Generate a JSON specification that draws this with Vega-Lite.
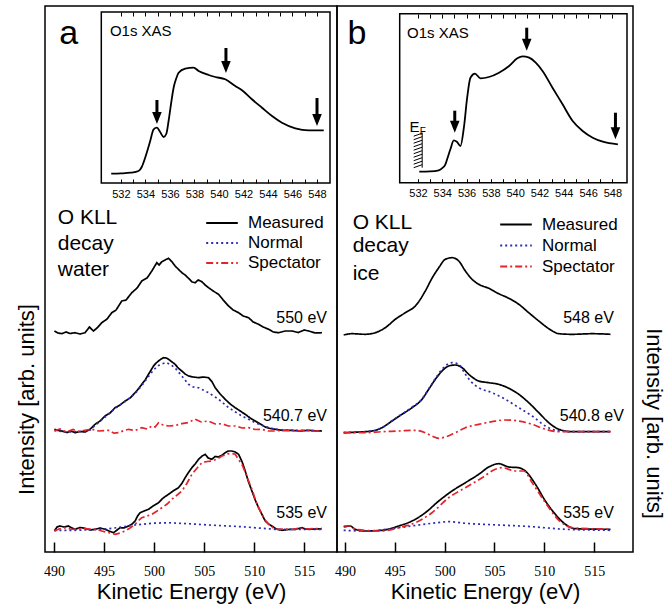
{
  "$schema": "https://vega.github.io/schema/vega-lite/v6.json",
  "padding": {"left": 14, "top": 5, "right": 3, "bottom": 5},
  "bounds": "flush",
  "spacing": 0,
  "config": {
    "view": {"stroke": "black", "strokeWidth": 1.5},
    "font": "Liberation Sans",
    "text": {"font": "Liberation Sans", "color": "black"},
    "axis": {"grid": false, "labelColor": "black", "titleColor": "black", "tickColor": "black", "titleFontWeight": "normal", "labelFont": "Liberation Sans", "titleFont": "Liberation Sans"}
  },
  "datasets": {
    "specA": [
      {"s":"a550","t":"Measured","ke":490.04,"i":221},{"s":"a550","t":"Measured","ke":490.4,"i":219},{"s":"a550","t":"Measured","ke":490.77,"i":218.3},{"s":"a550","t":"Measured","ke":491.2,"i":220},{"s":"a550","t":"Measured","ke":491.6,"i":218.5},{"s":"a550","t":"Measured","ke":492.1,"i":219.3},{"s":"a550","t":"Measured","ke":492.6,"i":218},{"s":"a550","t":"Measured","ke":493.1,"i":219.3},{"s":"a550","t":"Measured","ke":493.54,"i":225},{"s":"a550","t":"Measured","ke":493.94,"i":221},{"s":"a550","t":"Measured","ke":494.3,"i":224},{"s":"a550","t":"Measured","ke":494.77,"i":229.3},{"s":"a550","t":"Measured","ke":495.3,"i":233},{"s":"a550","t":"Measured","ke":495.77,"i":239.3},{"s":"a550","t":"Measured","ke":496.2,"i":242},{"s":"a550","t":"Measured","ke":496.77,"i":251},{"s":"a550","t":"Measured","ke":497.2,"i":252},{"s":"a550","t":"Measured","ke":497.77,"i":259.3},{"s":"a550","t":"Measured","ke":498.3,"i":264},{"s":"a550","t":"Measured","ke":498.77,"i":271},{"s":"a550","t":"Measured","ke":499.3,"i":274},{"s":"a550","t":"Measured","ke":499.77,"i":281},{"s":"a550","t":"Measured","ke":500.27,"i":289.3},{"s":"a550","t":"Measured","ke":500.5,"i":287},{"s":"a550","t":"Measured","ke":500.77,"i":290.3},{"s":"a550","t":"Measured","ke":501.1,"i":292},{"s":"a550","t":"Measured","ke":501.44,"i":293.7},{"s":"a550","t":"Measured","ke":501.8,"i":290},{"s":"a550","t":"Measured","ke":502.1,"i":286},{"s":"a550","t":"Measured","ke":502.4,"i":283},{"s":"a550","t":"Measured","ke":502.77,"i":279.3},{"s":"a550","t":"Measured","ke":503.1,"i":277},{"s":"a550","t":"Measured","ke":503.44,"i":273.7},{"s":"a550","t":"Measured","ke":503.8,"i":270},{"s":"a550","t":"Measured","ke":504.1,"i":269.3},{"s":"a550","t":"Measured","ke":504.4,"i":272},{"s":"a550","t":"Measured","ke":504.77,"i":270.3},{"s":"a550","t":"Measured","ke":505.1,"i":267},{"s":"a550","t":"Measured","ke":505.44,"i":264.3},{"s":"a550","t":"Measured","ke":505.9,"i":261},{"s":"a550","t":"Measured","ke":506.44,"i":257.7},{"s":"a550","t":"Measured","ke":506.9,"i":252},{"s":"a550","t":"Measured","ke":507.44,"i":246},{"s":"a550","t":"Measured","ke":507.9,"i":242},{"s":"a550","t":"Measured","ke":508.44,"i":239.3},{"s":"a550","t":"Measured","ke":508.9,"i":236},{"s":"a550","t":"Measured","ke":509.44,"i":234.3},{"s":"a550","t":"Measured","ke":509.9,"i":230},{"s":"a550","t":"Measured","ke":510.44,"i":227.7},{"s":"a550","t":"Measured","ke":510.9,"i":225},{"s":"a550","t":"Measured","ke":511.44,"i":222.7},{"s":"a550","t":"Measured","ke":511.9,"i":220},{"s":"a550","t":"Measured","ke":512.44,"i":219.3},{"s":"a550","t":"Measured","ke":513.1,"i":221},{"s":"a550","t":"Measured","ke":513.77,"i":221},{"s":"a550","t":"Measured","ke":514.4,"i":219.5},{"s":"a550","t":"Measured","ke":515.0,"i":222},{"s":"a550","t":"Measured","ke":515.44,"i":221},{"s":"a550","t":"Measured","ke":516.1,"i":219},{"s":"a550","t":"Measured","ke":516.77,"i":219.3},

      {"s":"a540","t":"Measured","ke":490.04,"i":122.7},{"s":"a540","t":"Measured","ke":490.4,"i":121.5},{"s":"a540","t":"Measured","ke":490.77,"i":121},{"s":"a540","t":"Measured","ke":491.3,"i":119.5},{"s":"a540","t":"Measured","ke":491.7,"i":121},{"s":"a540","t":"Measured","ke":492.1,"i":119.3},{"s":"a540","t":"Measured","ke":492.6,"i":120.5},{"s":"a540","t":"Measured","ke":493.1,"i":120},{"s":"a540","t":"Measured","ke":493.6,"i":122.7},{"s":"a540","t":"Measured","ke":494.1,"i":127.7},{"s":"a540","t":"Measured","ke":494.6,"i":131},{"s":"a540","t":"Measured","ke":495.1,"i":136},{"s":"a540","t":"Measured","ke":495.6,"i":139},{"s":"a540","t":"Measured","ke":496.1,"i":144.3},{"s":"a540","t":"Measured","ke":496.6,"i":147},{"s":"a540","t":"Measured","ke":497.1,"i":151},{"s":"a540","t":"Measured","ke":497.6,"i":154},{"s":"a540","t":"Measured","ke":498.1,"i":159.3},{"s":"a540","t":"Measured","ke":498.5,"i":164},{"s":"a540","t":"Measured","ke":498.77,"i":167.7},{"s":"a540","t":"Measured","ke":499.1,"i":172},{"s":"a540","t":"Measured","ke":499.44,"i":177.7},{"s":"a540","t":"Measured","ke":499.7,"i":182},{"s":"a540","t":"Measured","ke":499.94,"i":186},{"s":"a540","t":"Measured","ke":500.2,"i":189},{"s":"a540","t":"Measured","ke":500.44,"i":191},{"s":"a540","t":"Measured","ke":500.7,"i":193},{"s":"a540","t":"Measured","ke":500.94,"i":194.3},{"s":"a540","t":"Measured","ke":501.2,"i":194},{"s":"a540","t":"Measured","ke":501.44,"i":192.7},{"s":"a540","t":"Measured","ke":501.8,"i":190},{"s":"a540","t":"Measured","ke":502.1,"i":187.7},{"s":"a540","t":"Measured","ke":502.4,"i":184},{"s":"a540","t":"Measured","ke":502.77,"i":181},{"s":"a540","t":"Measured","ke":503.1,"i":178},{"s":"a540","t":"Measured","ke":503.44,"i":176},{"s":"a540","t":"Measured","ke":503.9,"i":175},{"s":"a540","t":"Measured","ke":504.44,"i":174.3},{"s":"a540","t":"Measured","ke":504.9,"i":175},{"s":"a540","t":"Measured","ke":505.44,"i":174.3},{"s":"a540","t":"Measured","ke":505.8,"i":170},{"s":"a540","t":"Measured","ke":506.1,"i":164.3},{"s":"a540","t":"Measured","ke":506.6,"i":158},{"s":"a540","t":"Measured","ke":507.1,"i":152.7},{"s":"a540","t":"Measured","ke":507.6,"i":148},{"s":"a540","t":"Measured","ke":508.1,"i":144.3},{"s":"a540","t":"Measured","ke":508.6,"i":141},{"s":"a540","t":"Measured","ke":509.1,"i":137.7},{"s":"a540","t":"Measured","ke":509.6,"i":134},{"s":"a540","t":"Measured","ke":510.1,"i":131},{"s":"a540","t":"Measured","ke":510.6,"i":128},{"s":"a540","t":"Measured","ke":511.1,"i":125},{"s":"a540","t":"Measured","ke":511.6,"i":123.5},{"s":"a540","t":"Measured","ke":512.1,"i":122.7},{"s":"a540","t":"Measured","ke":512.9,"i":121.5},{"s":"a540","t":"Measured","ke":513.77,"i":121.7},{"s":"a540","t":"Measured","ke":514.6,"i":121},{"s":"a540","t":"Measured","ke":515.44,"i":121.7},{"s":"a540","t":"Measured","ke":516.1,"i":121.2},{"s":"a540","t":"Measured","ke":516.77,"i":121},

      {"s":"a540","t":"Normal","ke":490.04,"i":121.5},{"s":"a540","t":"Normal","ke":490.77,"i":120.5},{"s":"a540","t":"Normal","ke":491.5,"i":120},{"s":"a540","t":"Normal","ke":492.1,"i":120.5},{"s":"a540","t":"Normal","ke":493.1,"i":120.5},{"s":"a540","t":"Normal","ke":493.6,"i":122},{"s":"a540","t":"Normal","ke":494.1,"i":126.5},{"s":"a540","t":"Normal","ke":495.1,"i":135},{"s":"a540","t":"Normal","ke":496.1,"i":143.5},{"s":"a540","t":"Normal","ke":497.1,"i":150.5},{"s":"a540","t":"Normal","ke":498.1,"i":158.5},{"s":"a540","t":"Normal","ke":498.77,"i":166.5},{"s":"a540","t":"Normal","ke":499.44,"i":175.5},{"s":"a540","t":"Normal","ke":499.94,"i":182},{"s":"a540","t":"Normal","ke":500.44,"i":186.5},{"s":"a540","t":"Normal","ke":500.9,"i":188.5},{"s":"a540","t":"Normal","ke":501.27,"i":189.3},{"s":"a540","t":"Normal","ke":501.7,"i":187},{"s":"a540","t":"Normal","ke":502.1,"i":184},{"s":"a540","t":"Normal","ke":502.77,"i":176},{"s":"a540","t":"Normal","ke":503.44,"i":167.7},{"s":"a540","t":"Normal","ke":503.9,"i":165},{"s":"a540","t":"Normal","ke":504.44,"i":164.3},{"s":"a540","t":"Normal","ke":504.9,"i":162},{"s":"a540","t":"Normal","ke":505.44,"i":159.3},{"s":"a540","t":"Normal","ke":506.44,"i":152.7},{"s":"a540","t":"Normal","ke":507.44,"i":144.3},{"s":"a540","t":"Normal","ke":508.77,"i":136},{"s":"a540","t":"Normal","ke":510.1,"i":129.3},{"s":"a540","t":"Normal","ke":511.44,"i":124.3},{"s":"a540","t":"Normal","ke":512.5,"i":122.2},{"s":"a540","t":"Normal","ke":513.77,"i":121.7},{"s":"a540","t":"Normal","ke":515.5,"i":121.5},{"s":"a540","t":"Normal","ke":516.77,"i":121},

      {"s":"a540","t":"Spectator","ke":490.04,"i":121},{"s":"a540","t":"Spectator","ke":490.6,"i":123},{"s":"a540","t":"Spectator","ke":491.2,"i":120},{"s":"a540","t":"Spectator","ke":491.9,"i":122.5},{"s":"a540","t":"Spectator","ke":492.5,"i":120.5},{"s":"a540","t":"Spectator","ke":493.2,"i":122},{"s":"a540","t":"Spectator","ke":493.77,"i":122.7},{"s":"a540","t":"Spectator","ke":494.5,"i":121},{"s":"a540","t":"Spectator","ke":495.44,"i":121.7},{"s":"a540","t":"Spectator","ke":496.0,"i":118.8},{"s":"a540","t":"Spectator","ke":496.44,"i":119.3},{"s":"a540","t":"Spectator","ke":497.0,"i":121.5},{"s":"a540","t":"Spectator","ke":497.44,"i":122.7},{"s":"a540","t":"Spectator","ke":498.1,"i":121.5},{"s":"a540","t":"Spectator","ke":498.77,"i":124.3},{"s":"a540","t":"Spectator","ke":499.3,"i":123},{"s":"a540","t":"Spectator","ke":499.77,"i":126},{"s":"a540","t":"Spectator","ke":500.1,"i":125},{"s":"a540","t":"Spectator","ke":500.44,"i":129.3},{"s":"a540","t":"Spectator","ke":500.9,"i":127},{"s":"a540","t":"Spectator","ke":501.44,"i":126},{"s":"a540","t":"Spectator","ke":502.1,"i":126.5},{"s":"a540","t":"Spectator","ke":502.77,"i":128.3},{"s":"a540","t":"Spectator","ke":503.4,"i":129.5},{"s":"a540","t":"Spectator","ke":504.1,"i":132.7},{"s":"a540","t":"Spectator","ke":504.7,"i":130},{"s":"a540","t":"Spectator","ke":505.44,"i":131},{"s":"a540","t":"Spectator","ke":506.1,"i":128},{"s":"a540","t":"Spectator","ke":506.77,"i":128.3},{"s":"a540","t":"Spectator","ke":507.4,"i":126},{"s":"a540","t":"Spectator","ke":508.1,"i":126},{"s":"a540","t":"Spectator","ke":508.8,"i":124},{"s":"a540","t":"Spectator","ke":509.44,"i":124.3},{"s":"a540","t":"Spectator","ke":510.1,"i":122.5},{"s":"a540","t":"Spectator","ke":510.77,"i":122.7},{"s":"a540","t":"Spectator","ke":511.4,"i":121},{"s":"a540","t":"Spectator","ke":512.1,"i":121},{"s":"a540","t":"Spectator","ke":513.0,"i":121.8},{"s":"a540","t":"Spectator","ke":514.0,"i":121},{"s":"a540","t":"Spectator","ke":515.0,"i":121.6},{"s":"a540","t":"Spectator","ke":516.0,"i":121},{"s":"a540","t":"Spectator","ke":516.77,"i":121},

      {"s":"a535","t":"Measured","ke":490.04,"i":21},{"s":"a535","t":"Measured","ke":490.3,"i":25},{"s":"a535","t":"Measured","ke":490.6,"i":26},{"s":"a535","t":"Measured","ke":491.0,"i":25},{"s":"a535","t":"Measured","ke":491.44,"i":26},{"s":"a535","t":"Measured","ke":491.8,"i":24},{"s":"a535","t":"Measured","ke":492.1,"i":22.7},{"s":"a535","t":"Measured","ke":492.6,"i":24.5},{"s":"a535","t":"Measured","ke":493.1,"i":23.7},{"s":"a535","t":"Measured","ke":493.6,"i":22},{"s":"a535","t":"Measured","ke":494.1,"i":22.7},{"s":"a535","t":"Measured","ke":494.6,"i":24},{"s":"a535","t":"Measured","ke":495.1,"i":22.7},{"s":"a535","t":"Measured","ke":495.5,"i":21},{"s":"a535","t":"Measured","ke":495.94,"i":19.3},{"s":"a535","t":"Measured","ke":496.3,"i":22},{"s":"a535","t":"Measured","ke":496.6,"i":24.3},{"s":"a535","t":"Measured","ke":497.0,"i":24},{"s":"a535","t":"Measured","ke":497.44,"i":26},{"s":"a535","t":"Measured","ke":497.8,"i":28},{"s":"a535","t":"Measured","ke":498.1,"i":31},{"s":"a535","t":"Measured","ke":498.35,"i":36},{"s":"a535","t":"Measured","ke":498.6,"i":39.3},{"s":"a535","t":"Measured","ke":499.0,"i":41},{"s":"a535","t":"Measured","ke":499.44,"i":42.7},{"s":"a535","t":"Measured","ke":499.9,"i":46},{"s":"a535","t":"Measured","ke":500.44,"i":49.3},{"s":"a535","t":"Measured","ke":500.9,"i":54},{"s":"a535","t":"Measured","ke":501.44,"i":57.7},{"s":"a535","t":"Measured","ke":501.9,"i":61},{"s":"a535","t":"Measured","ke":502.44,"i":64.3},{"s":"a535","t":"Measured","ke":502.8,"i":69},{"s":"a535","t":"Measured","ke":503.1,"i":74.3},{"s":"a535","t":"Measured","ke":503.4,"i":79},{"s":"a535","t":"Measured","ke":503.77,"i":84.3},{"s":"a535","t":"Measured","ke":504.1,"i":88},{"s":"a535","t":"Measured","ke":504.44,"i":92.7},{"s":"a535","t":"Measured","ke":504.8,"i":96},{"s":"a535","t":"Measured","ke":505.1,"i":97.7},{"s":"a535","t":"Measured","ke":505.4,"i":94},{"s":"a535","t":"Measured","ke":505.77,"i":92.7},{"s":"a535","t":"Measured","ke":506.1,"i":95.5},{"s":"a535","t":"Measured","ke":506.44,"i":95},{"s":"a535","t":"Measured","ke":506.8,"i":97},{"s":"a535","t":"Measured","ke":507.1,"i":99.3},{"s":"a535","t":"Measured","ke":507.4,"i":101},{"s":"a535","t":"Measured","ke":507.77,"i":101},{"s":"a535","t":"Measured","ke":508.1,"i":100},{"s":"a535","t":"Measured","ke":508.44,"i":97.7},{"s":"a535","t":"Measured","ke":508.8,"i":90},{"s":"a535","t":"Measured","ke":509.1,"i":81},{"s":"a535","t":"Measured","ke":509.4,"i":71},{"s":"a535","t":"Measured","ke":509.77,"i":61},{"s":"a535","t":"Measured","ke":510.1,"i":52},{"s":"a535","t":"Measured","ke":510.44,"i":44.3},{"s":"a535","t":"Measured","ke":510.8,"i":37},{"s":"a535","t":"Measured","ke":511.1,"i":31},{"s":"a535","t":"Measured","ke":511.44,"i":28},{"s":"a535","t":"Measured","ke":511.77,"i":26},{"s":"a535","t":"Measured","ke":512.2,"i":23},{"s":"a535","t":"Measured","ke":512.77,"i":21.7},{"s":"a535","t":"Measured","ke":513.4,"i":22.5},{"s":"a535","t":"Measured","ke":514.1,"i":22.7},{"s":"a535","t":"Measured","ke":514.77,"i":24.3},{"s":"a535","t":"Measured","ke":515.1,"i":23},{"s":"a535","t":"Measured","ke":515.44,"i":22.7},{"s":"a535","t":"Measured","ke":516.1,"i":23},{"s":"a535","t":"Measured","ke":516.77,"i":23.3},

      {"s":"a535","t":"Normal","ke":490.04,"i":21.7},{"s":"a535","t":"Normal","ke":492.1,"i":21.7},{"s":"a535","t":"Normal","ke":493.8,"i":22.3},{"s":"a535","t":"Normal","ke":495.44,"i":23.3},{"s":"a535","t":"Normal","ke":496.8,"i":25},{"s":"a535","t":"Normal","ke":498.1,"i":27},{"s":"a535","t":"Normal","ke":499.77,"i":28.7},{"s":"a535","t":"Normal","ke":501.44,"i":29.3},{"s":"a535","t":"Normal","ke":503.4,"i":28.3},{"s":"a535","t":"Normal","ke":505.44,"i":27},{"s":"a535","t":"Normal","ke":507.1,"i":26.2},{"s":"a535","t":"Normal","ke":508.77,"i":25.3},{"s":"a535","t":"Normal","ke":510.4,"i":24},{"s":"a535","t":"Normal","ke":512.1,"i":22.7},{"s":"a535","t":"Normal","ke":514.4,"i":22.7},{"s":"a535","t":"Normal","ke":516.77,"i":22.7},

      {"s":"a535","t":"Spectator","ke":490.04,"i":21},{"s":"a535","t":"Spectator","ke":490.5,"i":23},{"s":"a535","t":"Spectator","ke":491.1,"i":24.3},{"s":"a535","t":"Spectator","ke":491.6,"i":23},{"s":"a535","t":"Spectator","ke":492.1,"i":22.7},{"s":"a535","t":"Spectator","ke":492.9,"i":23.5},{"s":"a535","t":"Spectator","ke":493.77,"i":22.7},{"s":"a535","t":"Spectator","ke":494.3,"i":22.5},{"s":"a535","t":"Spectator","ke":494.77,"i":21},{"s":"a535","t":"Spectator","ke":495.4,"i":19.5},{"s":"a535","t":"Spectator","ke":496.1,"i":17.7},{"s":"a535","t":"Spectator","ke":496.6,"i":19},{"s":"a535","t":"Spectator","ke":497.1,"i":21},{"s":"a535","t":"Spectator","ke":497.6,"i":24},{"s":"a535","t":"Spectator","ke":498.1,"i":27.7},{"s":"a535","t":"Spectator","ke":498.4,"i":31},{"s":"a535","t":"Spectator","ke":498.77,"i":34.3},{"s":"a535","t":"Spectator","ke":499.3,"i":36},{"s":"a535","t":"Spectator","ke":499.77,"i":37.7},{"s":"a535","t":"Spectator","ke":500.3,"i":41},{"s":"a535","t":"Spectator","ke":500.77,"i":44.3},{"s":"a535","t":"Spectator","ke":501.3,"i":48},{"s":"a535","t":"Spectator","ke":501.77,"i":52.7},{"s":"a535","t":"Spectator","ke":502.3,"i":57},{"s":"a535","t":"Spectator","ke":502.77,"i":61},{"s":"a535","t":"Spectator","ke":503.3,"i":69},{"s":"a535","t":"Spectator","ke":503.77,"i":77.7},{"s":"a535","t":"Spectator","ke":504.3,"i":84},{"s":"a535","t":"Spectator","ke":504.77,"i":89.3},{"s":"a535","t":"Spectator","ke":505.3,"i":90.5},{"s":"a535","t":"Spectator","ke":505.77,"i":91},{"s":"a535","t":"Spectator","ke":506.3,"i":93},{"s":"a535","t":"Spectator","ke":506.77,"i":96},{"s":"a535","t":"Spectator","ke":507.1,"i":97},{"s":"a535","t":"Spectator","ke":507.44,"i":98.3},{"s":"a535","t":"Spectator","ke":507.8,"i":98.5},{"s":"a535","t":"Spectator","ke":508.1,"i":97.7},{"s":"a535","t":"Spectator","ke":508.4,"i":93},{"s":"a535","t":"Spectator","ke":508.77,"i":87.7},{"s":"a535","t":"Spectator","ke":509.1,"i":80},{"s":"a535","t":"Spectator","ke":509.44,"i":71},{"s":"a535","t":"Spectator","ke":509.8,"i":62},{"s":"a535","t":"Spectator","ke":510.1,"i":52.7},{"s":"a535","t":"Spectator","ke":510.4,"i":45},{"s":"a535","t":"Spectator","ke":510.77,"i":37.7},{"s":"a535","t":"Spectator","ke":511.1,"i":32},{"s":"a535","t":"Spectator","ke":511.44,"i":27.7},{"s":"a535","t":"Spectator","ke":511.8,"i":25},{"s":"a535","t":"Spectator","ke":512.1,"i":22.7},{"s":"a535","t":"Spectator","ke":513.0,"i":23},{"s":"a535","t":"Spectator","ke":513.8,"i":22.5},{"s":"a535","t":"Spectator","ke":514.5,"i":24},{"s":"a535","t":"Spectator","ke":515.2,"i":23},{"s":"a535","t":"Spectator","ke":516.0,"i":23.5},{"s":"a535","t":"Spectator","ke":516.77,"i":23.3}
    ],
    "specB": [
      {"s":"b548","t":"Measured","ke":489.87,"i":217},{"s":"b548","t":"Measured","ke":490.7,"i":218.3},{"s":"b548","t":"Measured","ke":492.04,"i":217.7},{"s":"b548","t":"Measured","ke":493.04,"i":219.3},{"s":"b548","t":"Measured","ke":494.05,"i":224.3},{"s":"b548","t":"Measured","ke":495.05,"i":232.7},{"s":"b548","t":"Measured","ke":496.05,"i":239.3},{"s":"b548","t":"Measured","ke":497.06,"i":246},{"s":"b548","t":"Measured","ke":498.06,"i":261},{"s":"b548","t":"Measured","ke":498.73,"i":273.7},{"s":"b548","t":"Measured","ke":499.41,"i":284.3},{"s":"b548","t":"Measured","ke":500.07,"i":292.7},{"s":"b548","t":"Measured","ke":500.74,"i":294.3},{"s":"b548","t":"Measured","ke":501.42,"i":291},{"s":"b548","t":"Measured","ke":502.08,"i":281},{"s":"b548","t":"Measured","ke":502.75,"i":272.7},{"s":"b548","t":"Measured","ke":503.42,"i":267.7},{"s":"b548","t":"Measured","ke":504.43,"i":263.7},{"s":"b548","t":"Measured","ke":505.43,"i":258.3},{"s":"b548","t":"Measured","ke":506.44,"i":253.7},{"s":"b548","t":"Measured","ke":507.44,"i":247.7},{"s":"b548","t":"Measured","ke":508.44,"i":239.3},{"s":"b548","t":"Measured","ke":509.45,"i":231},{"s":"b548","t":"Measured","ke":510.45,"i":223.3},{"s":"b548","t":"Measured","ke":511.46,"i":218.3},{"s":"b548","t":"Measured","ke":512.79,"i":217.7},{"s":"b548","t":"Measured","ke":514.8,"i":218.3},{"s":"b548","t":"Measured","ke":516.64,"i":217.7},

      {"s":"b540","t":"Measured","ke":489.87,"i":119.3},{"s":"b540","t":"Measured","ke":491.38,"i":120},{"s":"b540","t":"Measured","ke":492.71,"i":121},{"s":"b540","t":"Measured","ke":493.71,"i":124.3},{"s":"b540","t":"Measured","ke":494.72,"i":131},{"s":"b540","t":"Measured","ke":495.72,"i":137.7},{"s":"b540","t":"Measured","ke":496.73,"i":144.3},{"s":"b540","t":"Measured","ke":497.73,"i":152.7},{"s":"b540","t":"Measured","ke":498.4,"i":162.7},{"s":"b540","t":"Measured","ke":499.07,"i":172.7},{"s":"b540","t":"Measured","ke":499.74,"i":181},{"s":"b540","t":"Measured","ke":500.41,"i":186},{"s":"b540","t":"Measured","ke":501.07,"i":187},{"s":"b540","t":"Measured","ke":501.75,"i":184.3},{"s":"b540","t":"Measured","ke":502.42,"i":177.7},{"s":"b540","t":"Measured","ke":503.42,"i":171},{"s":"b540","t":"Measured","ke":504.43,"i":169.3},{"s":"b540","t":"Measured","ke":505.43,"i":167.7},{"s":"b540","t":"Measured","ke":506.44,"i":163.7},{"s":"b540","t":"Measured","ke":507.44,"i":157.7},{"s":"b540","t":"Measured","ke":508.44,"i":149.3},{"s":"b540","t":"Measured","ke":509.45,"i":139.3},{"s":"b540","t":"Measured","ke":510.45,"i":129.3},{"s":"b540","t":"Measured","ke":511.46,"i":122.7},{"s":"b540","t":"Measured","ke":512.79,"i":120.3},{"s":"b540","t":"Measured","ke":516.64,"i":120.3},

      {"s":"b540","t":"Normal","ke":489.87,"i":119.3},{"s":"b540","t":"Normal","ke":491.38,"i":120},{"s":"b540","t":"Normal","ke":492.71,"i":121},{"s":"b540","t":"Normal","ke":493.71,"i":124.3},{"s":"b540","t":"Normal","ke":494.72,"i":131.3},{"s":"b540","t":"Normal","ke":495.72,"i":138},{"s":"b540","t":"Normal","ke":496.73,"i":144.7},{"s":"b540","t":"Normal","ke":497.73,"i":153},{"s":"b540","t":"Normal","ke":498.4,"i":163},{"s":"b540","t":"Normal","ke":499.07,"i":173.5},{"s":"b540","t":"Normal","ke":499.74,"i":182.7},{"s":"b540","t":"Normal","ke":500.74,"i":189.3},{"s":"b540","t":"Normal","ke":501.42,"i":187.7},{"s":"b540","t":"Normal","ke":502.08,"i":177.7},{"s":"b540","t":"Normal","ke":502.75,"i":169.3},{"s":"b540","t":"Normal","ke":503.42,"i":164.3},{"s":"b540","t":"Normal","ke":504.76,"i":159.3},{"s":"b540","t":"Normal","ke":506.09,"i":152.7},{"s":"b540","t":"Normal","ke":507.44,"i":144.3},{"s":"b540","t":"Normal","ke":508.78,"i":136},{"s":"b540","t":"Normal","ke":510.11,"i":126},{"s":"b540","t":"Normal","ke":511.11,"i":121.7},{"s":"b540","t":"Normal","ke":512.79,"i":120.3},{"s":"b540","t":"Normal","ke":516.64,"i":120.3},

      {"s":"b540","t":"Spectator","ke":489.87,"i":119.3},{"s":"b540","t":"Spectator","ke":492.04,"i":119.3},{"s":"b540","t":"Spectator","ke":493.71,"i":120.3},{"s":"b540","t":"Spectator","ke":495.39,"i":121},{"s":"b540","t":"Spectator","ke":497.06,"i":121.7},{"s":"b540","t":"Spectator","ke":498.06,"i":119.3},{"s":"b540","t":"Spectator","ke":498.73,"i":116},{"s":"b540","t":"Spectator","ke":499.4,"i":113.7},{"s":"b540","t":"Spectator","ke":500.07,"i":115},{"s":"b540","t":"Spectator","ke":501.07,"i":119.3},{"s":"b540","t":"Spectator","ke":502.08,"i":124.3},{"s":"b540","t":"Spectator","ke":503.42,"i":127.7},{"s":"b540","t":"Spectator","ke":504.76,"i":130.3},{"s":"b540","t":"Spectator","ke":506.09,"i":132},{"s":"b540","t":"Spectator","ke":507.44,"i":131},{"s":"b540","t":"Spectator","ke":508.78,"i":127.7},{"s":"b540","t":"Spectator","ke":510.11,"i":122.7},{"s":"b540","t":"Spectator","ke":511.46,"i":120.3},{"s":"b540","t":"Spectator","ke":516.64,"i":120.3},

      {"s":"b535","t":"Measured","ke":489.87,"i":25},{"s":"b535","t":"Measured","ke":490.53,"i":26},{"s":"b535","t":"Measured","ke":491.03,"i":22.7},{"s":"b535","t":"Measured","ke":492.04,"i":21},{"s":"b535","t":"Measured","ke":493.71,"i":21.7},{"s":"b535","t":"Measured","ke":495.39,"i":26},{"s":"b535","t":"Measured","ke":496.73,"i":31},{"s":"b535","t":"Measured","ke":498.06,"i":39.3},{"s":"b535","t":"Measured","ke":499.41,"i":51},{"s":"b535","t":"Measured","ke":500.74,"i":61},{"s":"b535","t":"Measured","ke":502.08,"i":69.3},{"s":"b535","t":"Measured","ke":503.42,"i":77.7},{"s":"b535","t":"Measured","ke":504.43,"i":85},{"s":"b535","t":"Measured","ke":505.43,"i":88.3},{"s":"b535","t":"Measured","ke":506.44,"i":85},{"s":"b535","t":"Measured","ke":507.44,"i":84.3},{"s":"b535","t":"Measured","ke":508.1,"i":81},{"s":"b535","t":"Measured","ke":509.11,"i":67.7},{"s":"b535","t":"Measured","ke":510.11,"i":51},{"s":"b535","t":"Measured","ke":511.11,"i":37.7},{"s":"b535","t":"Measured","ke":512.12,"i":27.7},{"s":"b535","t":"Measured","ke":513.12,"i":23.3},{"s":"b535","t":"Measured","ke":516.64,"i":22.7},

      {"s":"b535","t":"Normal","ke":489.87,"i":21.7},{"s":"b535","t":"Normal","ke":492.04,"i":21},{"s":"b535","t":"Normal","ke":495.39,"i":24.3},{"s":"b535","t":"Normal","ke":498.73,"i":28.7},{"s":"b535","t":"Normal","ke":500.41,"i":30.3},{"s":"b535","t":"Normal","ke":502.08,"i":28.7},{"s":"b535","t":"Normal","ke":505.43,"i":27},{"s":"b535","t":"Normal","ke":508.78,"i":25.3},{"s":"b535","t":"Normal","ke":512.12,"i":22.7},{"s":"b535","t":"Normal","ke":516.64,"i":21.7},

      {"s":"b535","t":"Spectator","ke":489.87,"i":26},{"s":"b535","t":"Spectator","ke":490.53,"i":26},{"s":"b535","t":"Spectator","ke":491.03,"i":22.7},{"s":"b535","t":"Spectator","ke":493.71,"i":21},{"s":"b535","t":"Spectator","ke":495.39,"i":24.3},{"s":"b535","t":"Spectator","ke":497.06,"i":29.3},{"s":"b535","t":"Spectator","ke":498.73,"i":39.3},{"s":"b535","t":"Spectator","ke":500.41,"i":54.3},{"s":"b535","t":"Spectator","ke":502.08,"i":64.3},{"s":"b535","t":"Spectator","ke":503.76,"i":74.3},{"s":"b535","t":"Spectator","ke":505.09,"i":82.7},{"s":"b535","t":"Spectator","ke":505.76,"i":84.3},{"s":"b535","t":"Spectator","ke":507.1,"i":81},{"s":"b535","t":"Spectator","ke":507.94,"i":81},{"s":"b535","t":"Spectator","ke":508.78,"i":69.3},{"s":"b535","t":"Spectator","ke":510.11,"i":49.3},{"s":"b535","t":"Spectator","ke":511.46,"i":31.7},{"s":"b535","t":"Spectator","ke":512.79,"i":24.3},{"s":"b535","t":"Spectator","ke":516.64,"i":22.7}
    ],
    "xasA": [
      {"e":531.21,"v":9.3},{"e":532.0,"v":9.6},{"e":532.8,"v":10.3},{"e":533.44,"v":12},{"e":533.7,"v":16},{"e":533.98,"v":25.3},{"e":534.2,"v":34},{"e":534.39,"v":42},{"e":534.67,"v":53.7},{"e":534.94,"v":55.3},{"e":535.2,"v":51},{"e":535.49,"v":46},{"e":535.7,"v":49},{"e":535.89,"v":62},{"e":536.1,"v":80},{"e":536.3,"v":95.3},{"e":536.5,"v":104},{"e":536.71,"v":110.3},{"e":537.25,"v":114.3},{"e":537.93,"v":115.3},{"e":538.34,"v":112},{"e":539.16,"v":108},{"e":539.7,"v":106},{"e":540.51,"v":103.7},{"e":541.33,"v":97},{"e":541.88,"v":92.7},{"e":542.69,"v":83.7},{"e":543.51,"v":75.3},{"e":544.33,"v":67},{"e":545.14,"v":60.3},{"e":546.23,"v":54.7},{"e":547.32,"v":52.7},{"e":548.55,"v":52.7}
    ],
    "xasB": [
      {"e":532.11,"v":11},{"e":533.0,"v":11.3},{"e":533.71,"v":12.4},{"e":534.0,"v":14.5},{"e":534.26,"v":18.4},{"e":534.47,"v":26},{"e":534.67,"v":33.4},{"e":534.95,"v":42.4},{"e":535.2,"v":41},{"e":535.5,"v":36.7},{"e":535.78,"v":55},{"e":536.05,"v":85},{"e":536.32,"v":105},{"e":536.69,"v":109},{"e":537.15,"v":104.4},{"e":537.84,"v":105.7},{"e":538.67,"v":110},{"e":539.5,"v":116.7},{"e":540.18,"v":124.4},{"e":540.6,"v":126.4},{"e":541.15,"v":125},{"e":541.69,"v":120},{"e":542.25,"v":111.7},{"e":543.07,"v":95},{"e":543.9,"v":78.4},{"e":544.73,"v":61.7},{"e":545.55,"v":51.7},{"e":546.38,"v":45},{"e":547.21,"v":41},{"e":548.45,"v":38.4}
    ],
    "arrowsA": [{"e":534.94,"top":83,"tip":59},{"e":540.57,"top":135,"tip":110},{"e":548.0,"top":85,"tip":57}],
    "arrowsB": [{"e":535.03,"top":72,"tip":50},{"e":540.95,"top":155,"tip":132},{"e":548.25,"top":70,"tip":43.5}],
    "hatchB": [
      {"e1":532.35,"e2":532.35,"v1":15,"v2":50},
      {"e1":531.65,"e2":532.35,"v1":15,"v2":18},{"e1":531.65,"e2":532.35,"v1":18.5,"v2":21.5},{"e1":531.65,"e2":532.35,"v1":22,"v2":25},{"e1":531.65,"e2":532.35,"v1":25.5,"v2":28.5},{"e1":531.65,"e2":532.35,"v1":29,"v2":32},{"e1":531.65,"e2":532.35,"v1":32.5,"v2":35.5},{"e1":531.65,"e2":532.35,"v1":36,"v2":39},{"e1":531.65,"e2":532.35,"v1":39.5,"v2":42.5},{"e1":531.65,"e2":532.35,"v1":43,"v2":46},{"e1":531.65,"e2":532.35,"v1":46.5,"v2":49.5}
    ]
  },
  "hconcat": [
    {
      "width": 292,
      "height": 546,
      "layer": [
        {
          "layer": [
            {
              "data": {"name": "specA"},
              "mark": {"type": "line", "strokeWidth": 1.7},
              "encoding": {
                "x": {"field": "ke", "type": "quantitative", "scale": {"domain": [489.1, 518.27], "nice": false, "zero": false},
                  "axis": {"orient": "bottom", "values": [490, 495, 500, 505, 510, 515], "title": "Kinetic Energy (eV)", "domain": false, "tickSize": -10, "tickWidth": 1.5, "labelFont": "Liberation Serif", "labelFontSize": 14, "labelPadding": 22, "labelFlush": false, "titleFontSize": 22, "titlePadding": 3}},
                "y": {"field": "i", "type": "quantitative", "scale": {"domain": [0, 546], "nice": false},
                  "axis": {"orient": "left", "title": "Intensity [arb. units]", "labels": false, "ticks": false, "domain": false, "titleFontSize": 22, "titlePadding": 7, "titleY": 393}},
                "color": {"field": "t", "type": "nominal", "scale": {"domain": ["Measured", "Normal", "Spectator"], "range": ["#000000", "#2b2bb5", "#e5232b"]},
                  "legend": {"title": null, "orient": "none", "legendX": 160, "legendY": 207, "symbolType": "stroke", "symbolSize": 1000, "symbolStrokeWidth": 2, "labelFontSize": 17, "labelOffset": 9, "rowPadding": 0, "clipHeight": 20, "padding": 0, "labelColor": "black"}},
                "strokeDash": {"field": "t", "type": "nominal", "scale": {"domain": ["Measured", "Normal", "Spectator"], "range": [[1, 0], [2, 3], [7, 3, 2, 3]]},
                  "legend": {"title": null, "orient": "none", "legendX": 160, "legendY": 207, "symbolType": "stroke", "symbolSize": 1000, "symbolStrokeWidth": 2, "labelFontSize": 17, "labelOffset": 9, "rowPadding": 0, "clipHeight": 20, "padding": 0, "labelColor": "black"}},
                "detail": {"field": "s", "type": "nominal"}
              }
            },
            {
              "data": {"values": [{"ke": 517.27, "i": 234.3, "txt": "550 eV"}, {"ke": 517.27, "i": 136, "txt": "540.7 eV"}, {"ke": 517.27, "i": 39.3, "txt": "535 eV"}]},
              "mark": {"type": "text", "align": "right", "baseline": "middle", "fontSize": 16},
              "encoding": {"x": {"field": "ke", "type": "quantitative"}, "y": {"field": "i", "type": "quantitative"}, "text": {"field": "txt"}}
            },
            {
              "data": {"values": [{"ke": 490.37, "i": 334.3, "txt": "O KLL"}, {"ke": 490.37, "i": 308.3, "txt": "decay"}, {"ke": 490.37, "i": 281.7, "txt": "water"}]},
              "mark": {"type": "text", "align": "left", "baseline": "middle", "fontSize": 21},
              "encoding": {"x": {"field": "ke", "type": "quantitative"}, "y": {"field": "i", "type": "quantitative"}, "text": {"field": "txt"}}
            },
            {
              "data": {"values": [{"ke": 491.47, "i": 508, "txt": "a"}]},
              "mark": {"type": "text", "align": "center", "baseline": "alphabetic", "fontSize": 34},
              "encoding": {"x": {"field": "ke", "type": "quantitative"}, "y": {"field": "i", "type": "quantitative"}, "text": {"field": "txt"}}
            }
          ]
        },
        {
          "layer": [
            {
              "data": {"values": [{}]},
              "mark": {"type": "rect", "filled": false, "stroke": "black", "strokeWidth": 1.5},
              "encoding": {
                "x": {"datum": 530.4, "type": "quantitative", "scale": {"domain": [530.4, 549.06], "range": [56.3, 285], "nice": false, "zero": false},
                  "axis": {"orient": "top", "offset": -6, "values": [532,533,534,535,536,537,538,539,540,541,542,543,544,545,546,547,548], "labels": false, "domain": false, "tickSize": -4, "title": null}},
                "x2": {"datum": 549.06},
                "y": {"datum": 0, "type": "quantitative", "scale": {"domain": [0, 171], "range": [177, 6], "nice": false}, "axis": null},
                "y2": {"datum": 171}
              }
            },
            {
              "data": {"name": "xasA"},
              "mark": {"type": "line", "color": "black", "strokeWidth": 1.8, "interpolate": "monotone"},
              "encoding": {
                "x": {"field": "e", "type": "quantitative",
                  "axis": {"orient": "bottom", "offset": -369, "values": [532,533,534,535,536,537,538,539,540,541,542,543,544,545,546,547,548], "labelExpr": "datum.value % 2 === 0 ? datum.label : ''", "domain": false, "tickSize": -4, "labelFontSize": 11, "labelPadding": 9, "labelFlush": false, "labelOverlap": false, "title": null}},
                "y": {"field": "v", "type": "quantitative", "axis": null}
              }
            },
            {
              "data": {"name": "arrowsA"},
              "mark": {"type": "rule", "color": "black", "strokeWidth": 3, "y2Offset": -8},
              "encoding": {
                "x": {"field": "e", "type": "quantitative", "axis": null},
                "y": {"field": "top", "type": "quantitative", "axis": null},
                "y2": {"field": "tip"}
              }
            },
            {
              "data": {"name": "arrowsA"},
              "mark": {"type": "point", "shape": "M-0.8,-1L0.8,-1L0,1Z", "filled": true, "color": "black", "opacity": 1, "size": 144, "yOffset": -6},
              "encoding": {
                "x": {"field": "e", "type": "quantitative", "axis": null},
                "y": {"field": "tip", "type": "quantitative", "axis": null}
              }
            },
            {
              "data": {"values": [{"e": 531.1, "v": 152, "txt": "O1s XAS"}]},
              "mark": {"type": "text", "align": "left", "baseline": "middle", "fontSize": 15},
              "encoding": {
                "x": {"field": "e", "type": "quantitative", "axis": null},
                "y": {"field": "v", "type": "quantitative", "axis": null},
                "text": {"field": "txt"}
              }
            }
          ],
          "resolve": {"axis": {"x": "independent"}}
        }
      ],
      "resolve": {"scale": {"x": "independent", "y": "independent"}}
    },
    {
      "width": 296,
      "height": 546,
      "layer": [
        {
          "layer": [
            {
              "data": {"name": "specB"},
              "mark": {"type": "line", "strokeWidth": 1.7, "interpolate": "monotone"},
              "encoding": {
                "x": {"field": "ke", "type": "quantitative", "scale": {"domain": [489.2, 518.9], "nice": false, "zero": false},
                  "axis": {"orient": "bottom", "values": [490, 495, 500, 505, 510, 515], "title": "Kinetic Energy (eV)", "domain": false, "tickSize": -10, "tickWidth": 1.5, "labelFont": "Liberation Serif", "labelFontSize": 14, "labelPadding": 22, "labelFlush": false, "titleFontSize": 22, "titlePadding": 3}},
                "y": {"field": "i", "type": "quantitative", "scale": {"domain": [0, 546], "nice": false},
                  "axis": {"orient": "right", "title": "Intensity [arb. units]", "labels": false, "ticks": false, "domain": false, "titleFontSize": 22, "titlePadding": 8, "titleY": 417}},
                "color": {"field": "t", "type": "nominal", "scale": {"domain": ["Measured", "Normal", "Spectator"], "range": ["#000000", "#2b2bb5", "#e5232b"]},
                  "legend": {"title": null, "orient": "none", "legendX": 162, "legendY": 208, "symbolType": "stroke", "symbolSize": 1000, "symbolStrokeWidth": 2, "labelFontSize": 17, "labelOffset": 9, "rowPadding": 0, "clipHeight": 21, "padding": 0, "labelColor": "black"}},
                "strokeDash": {"field": "t", "type": "nominal", "scale": {"domain": ["Measured", "Normal", "Spectator"], "range": [[1, 0], [2, 3], [7, 3, 2, 3]]},
                  "legend": {"title": null, "orient": "none", "legendX": 162, "legendY": 208, "symbolType": "stroke", "symbolSize": 1000, "symbolStrokeWidth": 2, "labelFontSize": 17, "labelOffset": 9, "rowPadding": 0, "clipHeight": 21, "padding": 0, "labelColor": "black"}},
                "detail": {"field": "s", "type": "nominal"}
              }
            },
            {
              "data": {"values": [{"ke": 516.98, "i": 234.3, "txt": "548 eV"}, {"ke": 517.98, "i": 136, "txt": "540.8 eV"}, {"ke": 516.98, "i": 39.3, "txt": "535 eV"}]},
              "mark": {"type": "text", "align": "right", "baseline": "middle", "fontSize": 16},
              "encoding": {"x": {"field": "ke", "type": "quantitative"}, "y": {"field": "i", "type": "quantitative"}, "text": {"field": "txt"}}
            },
            {
              "data": {"values": [{"ke": 490.77, "i": 329.3, "txt": "O KLL"}, {"ke": 490.77, "i": 306, "txt": "decay"}, {"ke": 490.77, "i": 278.3, "txt": "ice"}]},
              "mark": {"type": "text", "align": "left", "baseline": "middle", "fontSize": 21},
              "encoding": {"x": {"field": "ke", "type": "quantitative"}, "y": {"field": "i", "type": "quantitative"}, "text": {"field": "txt"}}
            },
            {
              "data": {"values": [{"ke": 491.2, "i": 508, "txt": "b"}]},
              "mark": {"type": "text", "align": "center", "baseline": "alphabetic", "fontSize": 34},
              "encoding": {"x": {"field": "ke", "type": "quantitative"}, "y": {"field": "i", "type": "quantitative"}, "text": {"field": "txt"}}
            }
          ]
        },
        {
          "layer": [
            {
              "data": {"values": [{}]},
              "mark": {"type": "rect", "filled": false, "stroke": "black", "strokeWidth": 1.5},
              "encoding": {
                "x": {"datum": 530.5, "type": "quantitative", "scale": {"domain": [530.5, 549.2], "range": [62.7, 290], "nice": false, "zero": false},
                  "axis": {"orient": "top", "offset": -8, "values": [532,533,534,535,536,537,538,539,540,541,542,543,544,545,546,547,548], "labels": false, "domain": false, "tickSize": -4, "title": null}},
                "x2": {"datum": 549.2},
                "y": {"datum": 0, "type": "quantitative", "scale": {"domain": [0, 169], "range": [176.7, 7.7], "nice": false}, "axis": null},
                "y2": {"datum": 169}
              }
            },
            {
              "data": {"name": "xasB"},
              "mark": {"type": "line", "color": "black", "strokeWidth": 1.8, "interpolate": "monotone"},
              "encoding": {
                "x": {"field": "e", "type": "quantitative",
                  "axis": {"orient": "bottom", "offset": -369.3, "values": [532,533,534,535,536,537,538,539,540,541,542,543,544,545,546,547,548], "labelExpr": "datum.value % 2 === 0 ? datum.label : ''", "domain": false, "tickSize": -4, "labelFontSize": 11, "labelPadding": 9, "labelFlush": false, "labelOverlap": false, "title": null}},
                "y": {"field": "v", "type": "quantitative", "axis": null}
              }
            },
            {
              "data": {"name": "arrowsB"},
              "mark": {"type": "rule", "color": "black", "strokeWidth": 3, "y2Offset": -8},
              "encoding": {
                "x": {"field": "e", "type": "quantitative", "axis": null},
                "y": {"field": "top", "type": "quantitative", "axis": null},
                "y2": {"field": "tip"}
              }
            },
            {
              "data": {"name": "arrowsB"},
              "mark": {"type": "point", "shape": "M-0.8,-1L0.8,-1L0,1Z", "filled": true, "color": "black", "opacity": 1, "size": 144, "yOffset": -6},
              "encoding": {
                "x": {"field": "e", "type": "quantitative", "axis": null},
                "y": {"field": "tip", "type": "quantitative", "axis": null}
              }
            },
            {
              "data": {"name": "hatchB"},
              "mark": {"type": "rule", "color": "black", "strokeWidth": 1},
              "encoding": {
                "x": {"field": "e1", "type": "quantitative", "axis": null},
                "x2": {"field": "e2"},
                "y": {"field": "v1", "type": "quantitative", "axis": null},
                "y2": {"field": "v2"}
              }
            },
            {
              "data": {"values": [{"e": 531.1, "v": 150, "txt": "O1s XAS"}]},
              "mark": {"type": "text", "align": "left", "baseline": "middle", "fontSize": 15},
              "encoding": {
                "x": {"field": "e", "type": "quantitative", "axis": null},
                "y": {"field": "v", "type": "quantitative", "axis": null},
                "text": {"field": "txt"}
              }
            },
            {
              "data": {"values": [{"e": 531.3, "v": 56, "txt": "E"}]},
              "mark": {"type": "text", "align": "left", "baseline": "middle", "fontSize": 15},
              "encoding": {
                "x": {"field": "e", "type": "quantitative", "axis": null},
                "y": {"field": "v", "type": "quantitative", "axis": null},
                "text": {"field": "txt"}
              }
            },
            {
              "data": {"values": [{"e": 532.15, "v": 51, "txt": "F"}]},
              "mark": {"type": "text", "align": "left", "baseline": "middle", "fontSize": 10},
              "encoding": {
                "x": {"field": "e", "type": "quantitative", "axis": null},
                "y": {"field": "v", "type": "quantitative", "axis": null},
                "text": {"field": "txt"}
              }
            }
          ],
          "resolve": {"axis": {"x": "independent"}}
        }
      ],
      "resolve": {"scale": {"x": "independent", "y": "independent"}}
    }
  ],
  "resolve": {"scale": {"x": "independent", "y": "independent"}, "legend": {"color": "independent", "strokeDash": "independent"}}
}
